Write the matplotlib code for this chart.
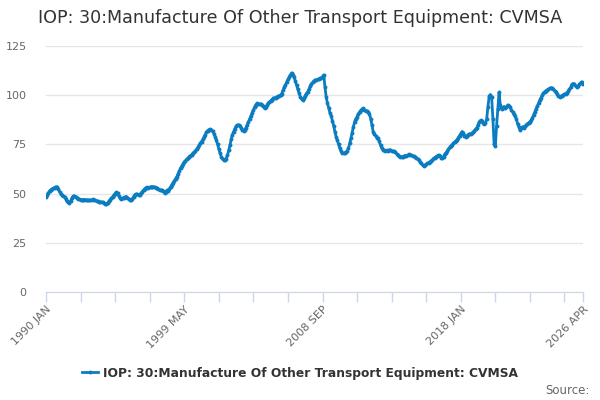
import numpy as np
import matplotlib
matplotlib.use("Agg")
from matplotlib import pyplot as plt

title = "IOP: 30:Manufacture Of Other Transport Equipment: CVMSA"
series_name = "IOP: 30:Manufacture Of Other Transport Equipment: CVMSA"

# monthly values, 1990 JAN .. 2026 APR
values = [
    48.5, 49.5, 50.5, 51.5, 52.0, 52.4, 52.6, 53.0, 53.5, 53.2, 52.3, 51.0,  # 1990
    50.0, 49.2, 48.8, 48.5, 47.2, 46.0, 45.5, 45.2, 46.3, 47.8, 48.6, 48.8,  # 1991
    48.5, 48.0, 47.5, 47.2, 47.0, 46.8, 47.0, 47.0, 46.9, 46.6, 46.7, 46.5,  # 1992
    46.5, 46.9, 47.1, 46.8, 46.5, 46.2, 46.0, 45.9, 45.6, 45.8, 45.5, 45.2,  # 1993
    44.8, 44.6, 45.3, 46.2, 47.0, 47.6, 48.4, 49.3, 50.0, 50.6, 50.2, 48.8,  # 1994
    47.8, 47.2, 47.6, 48.0, 48.3, 48.5, 48.0, 47.4, 46.9, 46.8, 47.5, 48.5,  # 1995
    49.5, 49.8, 49.6, 49.5, 49.5, 50.2, 51.0, 51.8, 52.5, 53.0, 53.2, 53.0,  # 1996
    53.2, 53.4, 53.5, 53.5, 53.3, 53.0, 52.7, 52.3, 51.8, 51.9, 51.6, 51.2,  # 1997
    50.3, 51.0, 51.6, 51.5, 52.5, 53.5, 54.5, 55.5, 56.5, 57.5, 58.6, 60.0,  # 1998
    61.5, 63.0, 64.0, 65.2, 66.0, 66.8, 67.5, 68.0, 68.8, 69.3, 69.8, 70.5,  # 1999
    71.0, 71.8, 72.5, 73.5, 74.5, 75.5, 76.4, 77.5, 78.8, 80.0, 81.2, 82.0,  # 2000
    82.5, 82.7, 82.4, 81.8, 80.5, 79.0, 77.2, 75.0, 72.8, 70.5, 68.8, 67.6,  # 2001
    67.2, 67.1, 67.8, 69.5, 72.0, 74.5, 77.5, 80.0, 81.5, 83.0, 84.2, 84.8,  # 2002
    85.0, 84.6, 83.5, 82.5, 82.0, 82.5, 83.5, 85.0, 86.5, 88.0, 89.5, 91.0,  # 2003
    92.5, 94.0, 95.2, 95.8, 95.6, 95.5, 95.6, 95.2, 94.5, 93.3, 93.8, 95.0,  # 2004
    96.0, 96.5, 97.2, 97.8, 98.4, 98.6, 98.8, 99.2, 99.5, 99.8, 100.0, 100.8,  # 2005
    102.5, 104.0, 105.2, 106.8, 108.0, 109.2, 110.3, 111.3, 110.5, 109.0, 107.2, 105.0,  # 2006
    103.0, 101.0, 99.2, 98.2, 97.6, 98.5, 99.8, 100.8, 101.8, 103.0, 104.5, 105.8,  # 2007
    106.5, 107.2, 107.8, 107.5, 108.0, 108.3, 108.6, 108.5, 109.5, 110.3, 104.0, 99.0,  # 2008
    96.0, 93.5, 91.0, 89.5, 87.0, 84.5, 81.5, 79.0, 77.0, 75.0, 73.0, 71.5,  # 2009
    70.5, 70.6, 70.8, 71.2, 71.6, 73.0, 75.5, 78.0, 81.0, 84.0, 86.5, 88.0,  # 2010
    89.0, 90.5, 91.5, 92.3, 92.8, 93.3, 92.5, 92.2, 92.0, 91.6, 90.5, 88.0,  # 2011
    85.0, 81.5, 80.5, 79.5, 78.5, 78.0, 76.5, 74.5, 73.0, 72.2, 72.0, 71.8,  # 2012
    72.0, 71.8, 72.0, 72.3, 71.8, 71.5, 71.4, 71.0, 70.2, 69.5, 69.0, 68.8,  # 2013
    68.5, 68.8, 69.1, 69.3, 69.0, 69.5, 70.0, 69.8, 69.5, 69.2, 69.0, 68.8,  # 2014
    68.3, 67.6, 67.1, 66.2, 65.3, 64.5, 64.0, 64.4, 64.9, 65.3, 65.7, 66.2,  # 2015
    66.7, 67.2, 67.9, 68.3, 68.8, 69.2, 69.6, 69.0, 68.3, 67.9, 68.8, 70.0,  # 2016
    70.8, 71.5, 72.5, 73.5, 74.3, 74.8, 75.5, 76.2, 76.8, 77.4, 78.5, 79.5,  # 2017
    80.5, 81.5, 81.0, 79.5, 79.0, 79.5, 80.0, 80.3, 80.5, 80.6, 81.2, 82.0,  # 2018
    82.8, 83.5, 85.0, 86.5, 87.2, 86.8, 85.8, 85.6, 85.7, 88.0, 94.2, 99.5,  # 2019
    100.3, 99.0, 88.0, 75.0, 74.0, 84.5, 93.0, 101.5, 95.0, 93.0, 93.5, 94.2,  # 2020
    93.3, 94.0, 95.0, 94.6, 93.8, 92.5, 91.5, 90.2, 89.2, 88.0, 85.5, 84.0,  # 2021
    82.3, 83.5, 84.0, 83.5, 84.2, 84.9, 85.5, 86.0, 86.5, 87.2, 88.5, 90.0,  # 2022
    91.5, 93.0, 94.5, 96.0, 97.5, 98.8, 100.0, 101.0, 101.8, 102.3, 102.6, 103.0,  # 2023
    103.5, 103.8, 103.6, 103.0, 102.3, 101.5, 100.6, 99.8, 99.3, 99.5, 99.8, 100.2,  # 2024
    100.5, 100.8, 101.3, 102.0, 103.0, 104.0, 105.5, 105.8, 105.8, 104.6, 104.2, 104.5,  # 2025
    105.5, 106.3, 106.8, 105.5,  # 2026
]

tick_labels = ["1990 JAN", "1999 MAY", "2008 SEP", "2018 JAN", "2026 APR"]
y_ticks = [0, 25, 50, 75, 100, 125]

line_color = "#0b7cc0"
grey_text = "#666666"

x = np.arange(len(values))
last = len(values) - 1

fig = plt.figure(figsize=(6, 4), dpi=100)
ax = fig.add_axes([46 / 600, 108 / 400, 537 / 600, 246 / 400])

line, = ax.plot(x, values, color=line_color, lw=2, marker="o", ms=2.8,
                markeredgewidth=0, zorder=3)

ax.set_xlim(0, last)
ax.set_ylim(0, 125)
ax.set_yticks(y_ticks)
ax.set_yticklabels([str(v) for v in y_ticks], color=grey_text, fontsize=8)
ax.tick_params(axis="y", length=0, pad=14)
ax.yaxis.grid(True, color="#e6e6e6", lw=1)
ax.set_axisbelow(True)

# every 28 months a tick, labelled every 4th, plus the last month
major = [0, 112, 224, 336, last]
minor = [m for m in range(0, last, 28) if m not in major]
ax.set_xticks(major)
ax.set_xticklabels(tick_labels, rotation=45, ha="right", rotation_mode="anchor",
                   color=grey_text, fontsize=8)
ax.set_xticks(minor, minor=True)
ax.tick_params(axis="x", which="both", length=7, color="#ccd6eb", width=1, pad=2)

for s in ["top", "right", "left"]:
    ax.spines[s].set_visible(False)
ax.spines["bottom"].set_color("#ccd6eb")

fig.text(0.5, 0.955, title, ha="center", va="center", fontsize=12.6, color="#333333")
fig.legend([line], [series_name], loc="center", bbox_to_anchor=(0.5, 0.067),
           frameon=False, prop={"weight": "bold", "size": 8.8}, labelcolor="#333333",
           handlelength=1.3, handletextpad=0.4, markerscale=1.0)
fig.text(0.982, 0.025, "Source:", ha="right", va="center", fontsize=8.5, color=grey_text)

fig.savefig("out.png", dpi=100)
